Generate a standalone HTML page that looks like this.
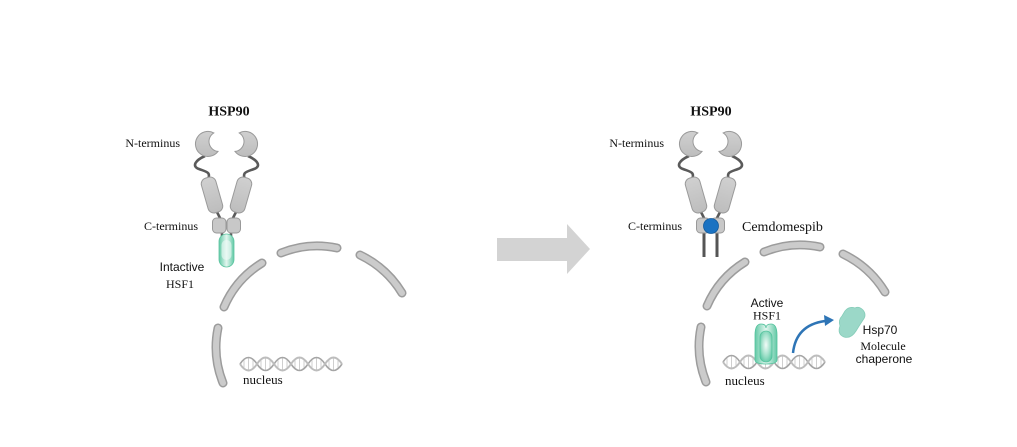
<!DOCTYPE html>
<html><head><meta charset="utf-8"><style>
html,body{margin:0;padding:0;background:#fff;}
svg{display:block;}
.serif{font-family:"Liberation Serif",serif;fill:#111;}
.sans{font-family:"Liberation Sans",sans-serif;fill:#111;}
</style></head><body>
<svg width="1017" height="447" viewBox="0 0 1017 447" xmlns="http://www.w3.org/2000/svg">
<defs>
  <radialGradient id="gr" cx="50%" cy="45%" r="60%">
    <stop offset="0" stop-color="#f2fbf8"/>
    <stop offset="0.55" stop-color="#a6e2cd"/>
    <stop offset="1" stop-color="#5ec8a5"/>
  </radialGradient>
  <linearGradient id="grh" x1="0" x2="1" y1="0" y2="0">
    <stop offset="0" stop-color="#62c9a6"/>
    <stop offset="0.5" stop-color="#e3f6ef"/>
    <stop offset="1" stop-color="#62c9a6"/>
  </linearGradient>
  <linearGradient id="gray" x1="0" x2="0" y1="0" y2="1">
    <stop offset="0" stop-color="#d0d0d0"/>
    <stop offset="1" stop-color="#bdbdbd"/>
  </linearGradient>
  <g id="arcs">
    <path d="M224 307 A96 96 0 0 1 262 263" fill="none" stroke="#9c9c9c" stroke-width="9" stroke-linecap="round"/>
    <path d="M224 307 A96 96 0 0 1 262 263" fill="none" stroke="#cbcbcb" stroke-width="6" stroke-linecap="round"/>
    <path d="M281 253 A96 96 0 0 1 337 248" fill="none" stroke="#9c9c9c" stroke-width="9" stroke-linecap="round"/>
    <path d="M281 253 A96 96 0 0 1 337 248" fill="none" stroke="#cbcbcb" stroke-width="6" stroke-linecap="round"/>
    <path d="M360 255 A100 100 0 0 1 402 293" fill="none" stroke="#9c9c9c" stroke-width="9" stroke-linecap="round"/>
    <path d="M360 255 A100 100 0 0 1 402 293" fill="none" stroke="#cbcbcb" stroke-width="6" stroke-linecap="round"/>
    <path d="M218 328 A96 96 0 0 0 223 383" fill="none" stroke="#9c9c9c" stroke-width="9" stroke-linecap="round"/>
    <path d="M218 328 A96 96 0 0 0 223 383" fill="none" stroke="#cbcbcb" stroke-width="6" stroke-linecap="round"/>
  </g>
  <g id="dna">
    <g stroke="#cfcfcf" stroke-width="1">
      <path d="M244 359.5 v9 M248.5 358 v12 M253 359.5 v9 M261 359.5 v9 M265.5 358 v12 M270 359.5 v9 M278 359.5 v9 M282.5 358 v12 M287 359.5 v9 M295 359.5 v9 M299.5 358 v12 M304 359.5 v9 M312 359.5 v9 M316.5 358 v12 M321 359.5 v9 M329 359.5 v9 M333.5 358 v12 M338 359.5 v9"/>
    </g>
    <path d="M240 364 q8.5 -13 17 0 t17 0 t17 0 t17 0 t17 0 t17 0" fill="none" stroke="#a5a5a5" stroke-width="1.6"/>
    <path d="M240 364 q8.5 13 17 0 t17 0 t17 0 t17 0 t17 0 t17 0" fill="none" stroke="#bdbdbd" stroke-width="2"/>
  </g>
  <g id="hsp">
    <!-- linkers -->
    <path d="M205 156 C196 160 191 166 199 169 S211 172 208 180" fill="none" stroke="#5a5a5a" stroke-width="2.6"/>
    <path d="M248 156 C257 160 262 166 254 169 S242 172 245 180" fill="none" stroke="#5a5a5a" stroke-width="2.6"/>
    <!-- crescents -->
    <path d="M213.8 132.9 A12.5 12.5 0 1 0 218 151.4 A10 10 0 0 1 213.8 132.9 Z" fill="url(#gray)" stroke="#9a9a9a" stroke-width="1"/>
    <path d="M239.2 132.9 A12.5 12.5 0 1 1 235 151.4 A10 10 0 0 0 239.2 132.9 Z" fill="url(#gray)" stroke="#9a9a9a" stroke-width="1"/>
    <!-- V connectors -->
    <path d="M215 208 L221 220 M238 208 L232 220" stroke="#5a5a5a" stroke-width="2.6"/>
    <!-- rods -->
    <rect x="204.5" y="177" width="15" height="36" rx="6" transform="rotate(-16 212 195)" fill="url(#gray)" stroke="#9a9a9a"/>
    <rect x="233.5" y="177" width="15" height="36" rx="6" transform="rotate(16 241 195)" fill="url(#gray)" stroke="#9a9a9a"/>
  </g>
</defs>

<!-- LEFT -->
<text class="serif" x="229" y="115.5" font-size="14" font-weight="bold" text-anchor="middle">HSP90</text>
<text class="serif" x="180" y="147" font-size="12" text-anchor="end">N-terminus</text>
<text class="serif" x="198" y="230" font-size="12" text-anchor="end">C-terminus</text>
<text class="sans" x="182" y="271" font-size="12" text-anchor="middle">Intactive</text>
<text class="serif" x="180" y="288" font-size="12" text-anchor="middle">HSF1</text>

<use href="#hsp"/>
<path d="M222 230 V240 M231 230 V240" stroke="#5a5a5a" stroke-width="2.6"/>
<rect x="212.5" y="218" width="13.5" height="15" rx="4" fill="#c8c8c8" stroke="#999"/>
<rect x="227" y="218" width="13.5" height="15" rx="4" fill="#c8c8c8" stroke="#999"/>
<rect x="219" y="234" width="15" height="33" rx="7.5" fill="url(#grh)" stroke="#5cc4a0" stroke-width="0.8"/>
<rect x="221.5" y="240" width="10" height="20" rx="5" fill="#eefaf6" opacity="0.6"/>

<use href="#arcs"/>
<use href="#dna"/>
<text class="serif" x="243" y="384" font-size="13">nucleus</text>

<!-- big arrow -->
<rect x="497" y="238" width="71" height="23" fill="#d3d3d3"/>
<polygon points="567,224 590,249 567,274" fill="#d3d3d3"/>

<!-- RIGHT -->
<text class="serif" x="711" y="115.5" font-size="14" font-weight="bold" text-anchor="middle">HSP90</text>
<text class="serif" x="664" y="147" font-size="12" text-anchor="end">N-terminus</text>
<text class="serif" x="682" y="230" font-size="12" text-anchor="end">C-terminus</text>
<text class="serif" x="742" y="231" font-size="14">Cemdomespib</text>

<use href="#hsp" transform="translate(484,0)"/>
<path d="M704 232 V257 M717 232 V257" stroke="#555" stroke-width="3"/>
<rect x="696.5" y="218" width="13.5" height="15" rx="4" fill="#c8c8c8" stroke="#999"/>
<rect x="711" y="218" width="13.5" height="15" rx="4" fill="#c8c8c8" stroke="#999"/>
<circle cx="711" cy="226" r="7.5" fill="#1a72c2" stroke="#135a9c" stroke-width="0.8"/>

<use href="#arcs" transform="translate(483,-1)"/>
<use href="#dna" transform="translate(483,-2)"/>
<text class="serif" x="725" y="385" font-size="13">nucleus</text>

<text class="sans" x="767" y="307" font-size="12" text-anchor="middle">Active</text>
<text class="serif" x="767" y="319.5" font-size="12" text-anchor="middle">HSF1</text>
<path d="M755 360 L755 335 Q755 324 761 324 Q766 324 766 328 Q766 324 771 324 Q777 324 777 335 L777 360 Q777 364 766 364 Q755 364 755 360 Z" fill="url(#grh)" stroke="#52c29c" stroke-width="0.8"/>
<rect x="760" y="331" width="12" height="31" rx="6" fill="url(#gr)" stroke="#52c29c" stroke-width="0.8"/>

<path d="M793 353 Q796 325 825 321" fill="none" stroke="#2e75b6" stroke-width="2.5"/>
<polygon points="834,320 824,315 825,326" fill="#2e75b6"/>

<path d="M845 311 Q849 306 855 308 Q859 306 863 310 Q867 315 863 320 Q859 326 856 331 Q851 339 844 337 Q837 334 840 326 Q838 320 842 316 Z" fill="#9bd8c8" stroke="#86cdb9" stroke-width="0.8"/>

<text class="sans" x="880" y="334" font-size="12" text-anchor="middle">Hsp70</text>
<text class="serif" x="883" y="350" font-size="12" text-anchor="middle">Molecule</text>
<text class="sans" x="884" y="363" font-size="12" text-anchor="middle">chaperone</text>
</svg>
</body></html>
